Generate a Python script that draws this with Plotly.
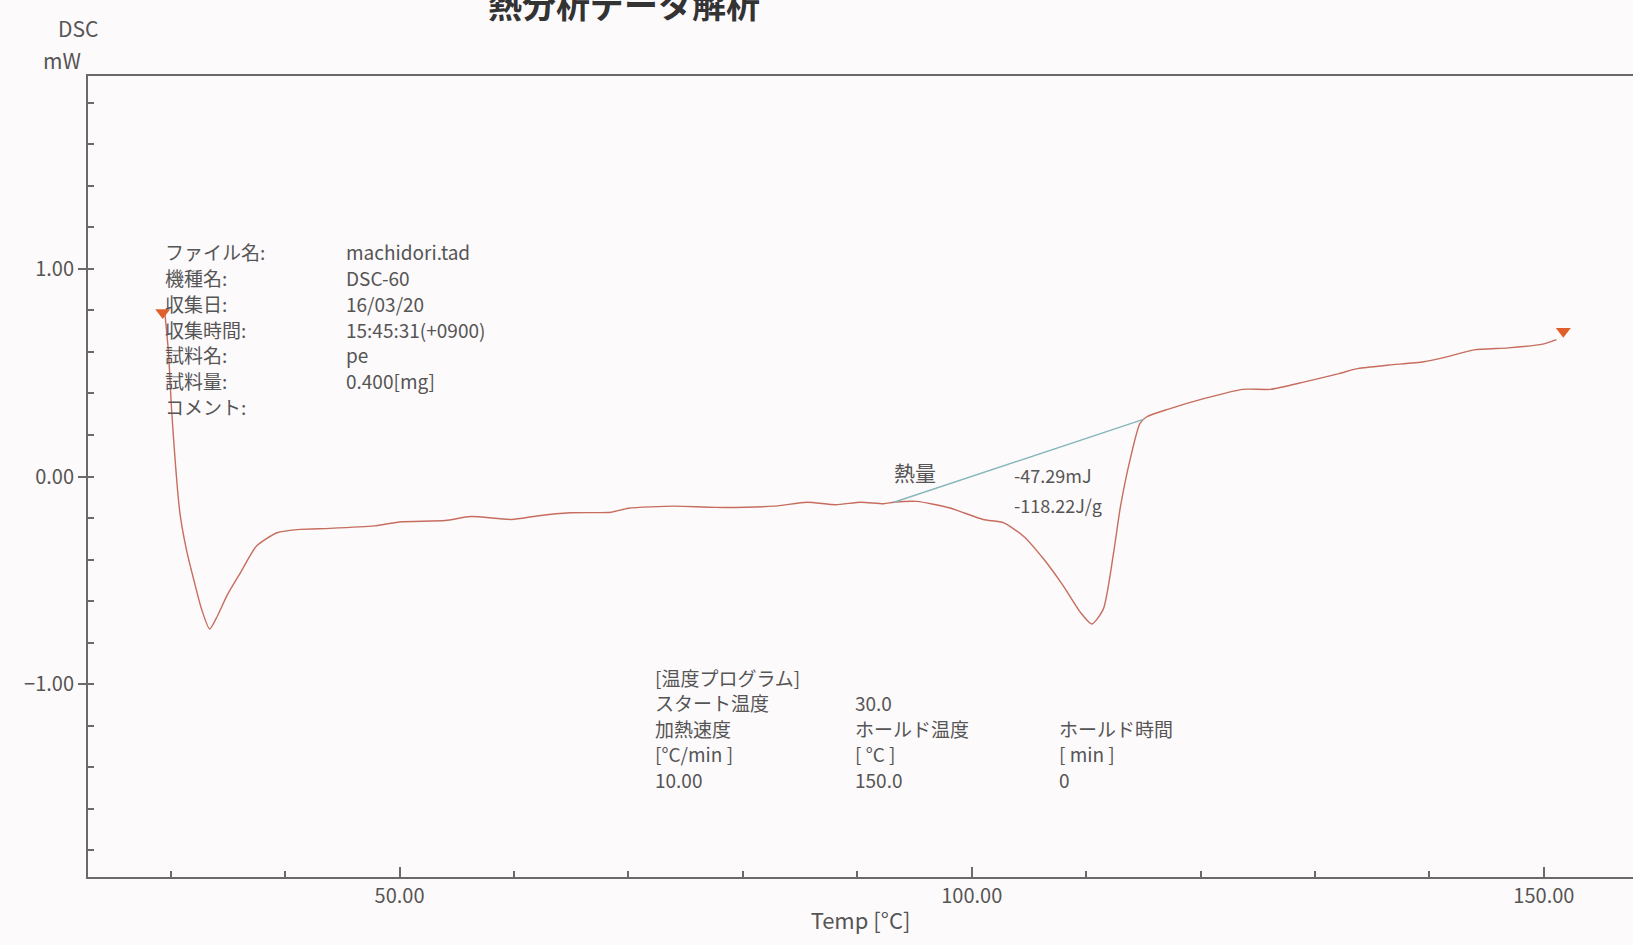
import plotly.graph_objects as go

# ---- data ----
temp = [29.5, 29.8, 30.1, 30.8, 31.4, 32.0, 32.7, 33.4, 34.1, 34.9, 36.1, 37.5, 39.3,
        41.3, 43.9, 47.8, 50.0, 54.0, 56.2, 59.8, 62.0, 64.9, 68.5, 70.0, 74.0, 77.6,
        82.7, 85.6, 88.1, 90.3, 92.3, 93.2, 95.2, 98.1, 101.0, 102.8, 104.5, 106.3,
        108.0, 109.5, 110.5, 111.5, 112.4, 113.0, 113.9, 114.7, 115.3, 117.2, 120.2,
        123.7, 126.1, 129.1, 132.1, 133.8, 136.5, 139.5, 141.6, 143.9, 146.9, 149.9, 151.1]
dsc = [0.78, 0.60, 0.30, -0.175, -0.36, -0.495, -0.64, -0.735, -0.67, -0.575, -0.463,
       -0.335, -0.271, -0.255, -0.250, -0.238, -0.219, -0.212, -0.193, -0.207, -0.190,
       -0.175, -0.172, -0.153, -0.143, -0.149, -0.143, -0.124, -0.136, -0.124, -0.131,
       -0.124, -0.120, -0.152, -0.207, -0.223, -0.287, -0.399, -0.527, -0.655, -0.711,
       -0.639, -0.367, -0.144, 0.096, 0.256, 0.288, 0.325, 0.374, 0.420, 0.420, 0.456,
       0.496, 0.521, 0.537, 0.553, 0.578, 0.610, 0.620, 0.638, 0.660]

marker_temp = [29.3, 151.7]
marker_dsc = [0.79, 0.70]

base_temp = [93.2, 115.0]
base_dsc = [-0.124, 0.275]

heat_mj = -47.29
heat_jg = -118.22

info_labels = ["ファイル名:", "機種名:", "収集日:", "収集時間:", "試料名:", "試料量:", "コメント:"]
info_values = ["machidori.tad", "DSC-60", "16/03/20", "15:45:31(+0900)", "pe", "0.400[mg]", ""]

prog_rows = [
    ["[温度プログラム]", "", ""],
    ["スタート温度", "30.0", ""],
    ["加熱速度", "ホールド温度", "ホールド時間"],
    ["[°C/min ]", "[ °C ]", "[ min ]"],
    ["10.00", "150.0", "0"],
]

# ---- layout geometry ----
W, H = 1633, 945
L, R, T, B = 88, 0, 76, 68
PW, PH = W - L - R, H - T - B
FONT = "Noto Sans CJK JP"
TXT = "#555555"
BG = "#fdfafc"


def px(x):
    return (x - L) / PW


def py(y):
    return 1 - (y - T) / PH


fig = go.Figure()
fig.add_trace(go.Scatter(x=temp, y=dsc, mode="lines", line_shape="spline",
                         line=dict(color="#c66d5e", width=1.4, smoothing=0.6), hoverinfo="skip"))
fig.add_trace(go.Scatter(x=base_temp, y=base_dsc, mode="lines",
                         line=dict(color="#86b6ba", width=1.4), hoverinfo="skip"))
fig.add_trace(go.Scatter(x=marker_temp, y=marker_dsc, mode="markers",
                         marker=dict(symbol="triangle-down", size=13, color="#e0602c"),
                         hoverinfo="skip"))

ann = []
# Title (cut off at top, as in the reference)
ann.append(dict(text="<b>熱分析データ解析</b>", x=px(624), y=py(3), xref="paper", yref="paper",
                showarrow=False, xanchor="center", yanchor="middle",
                font=dict(family=FONT, size=34, color="#333")))
ann.append(dict(text="DSC", x=px(78), y=py(28), xref="paper", yref="paper", showarrow=False,
                xanchor="center", yanchor="middle", font=dict(family=FONT, size=21, color=TXT)))
ann.append(dict(text="mW", x=px(62), y=py(60), xref="paper", yref="paper", showarrow=False,
                xanchor="center", yanchor="middle", font=dict(family=FONT, size=21, color=TXT)))

for i, (lab, val) in enumerate(zip(info_labels, info_values)):
    yy = 252 + i * 25.7
    ann.append(dict(text=lab, x=px(163), y=py(yy), xref="paper", yref="paper", showarrow=False,
                    xanchor="left", yanchor="middle", font=dict(family=FONT, size=19, color=TXT)))
    if val:
        ann.append(dict(text=val, x=px(344), y=py(yy), xref="paper", yref="paper", showarrow=False,
                        xanchor="left", yanchor="middle", font=dict(family=FONT, size=19, color=TXT)))

cols = [653, 853, 1057]
for r, row in enumerate(prog_rows):
    yy = 677 + r * 25.5
    for c, t in enumerate(row):
        if t:
            ann.append(dict(text=t, x=px(cols[c]), y=py(yy), xref="paper", yref="paper",
                            showarrow=False, xanchor="left", yanchor="middle",
                            font=dict(family=FONT, size=19, color=TXT)))

ann.append(dict(text="熱量", x=px(892), y=py(472), xref="paper", yref="paper", showarrow=False,
                xanchor="left", yanchor="middle", font=dict(family=FONT, size=21, color=TXT)))
ann.append(dict(text=f"{heat_mj:.2f}mJ", x=px(1012), y=py(475), xref="paper", yref="paper",
                showarrow=False, xanchor="left", yanchor="middle",
                font=dict(family=FONT, size=18, color=TXT)))
ann.append(dict(text=f"{heat_jg:.2f}J/g", x=px(1012), y=py(505), xref="paper", yref="paper",
                showarrow=False, xanchor="left", yanchor="middle",
                font=dict(family=FONT, size=18, color=TXT)))

fig.update_layout(
    width=W, height=H, margin=dict(l=L, r=R, t=T, b=B),
    paper_bgcolor=BG, plot_bgcolor=BG, showlegend=False,
    annotations=ann,
    font=dict(family=FONT, color=TXT),
    xaxis=dict(range=[22.77, 157.79], tickmode="linear", tick0=0, dtick=50, tickformat=".2f",
               showgrid=False, zeroline=False, showline=True, linecolor="#6a6a6a", linewidth=2,
               mirror=True, ticks="inside", ticklen=10, tickcolor="#6a6a6a", tickwidth=1.5,
               tickfont=dict(family=FONT, size=20, color=TXT),
               minor=dict(dtick=10, tick0=0, ticks="inside", ticklen=6, tickcolor="#6a6a6a",
                          showgrid=False),
               title=dict(text="Temp [°C]", font=dict(family=FONT, size=22, color=TXT), standoff=6)),
    yaxis=dict(range=[-1.93, 1.93], tickmode="linear", tick0=0, dtick=1, tickformat=".2f",
               showgrid=False, zeroline=False, showline=True, linecolor="#6a6a6a", linewidth=2,
               ticks="outside", ticklen=8, tickcolor="#6a6a6a", tickwidth=1.5,
               tickfont=dict(family=FONT, size=20, color=TXT),
               minor=dict(dtick=0.2, tick0=0, ticks="inside", ticklen=6, tickcolor="#6a6a6a",
                          showgrid=False)),
)

fig.write_html("out.html", config={"displayModeBar": False},
               post_script="document.body.style.margin='0';document.body.style.overflow='hidden';")
